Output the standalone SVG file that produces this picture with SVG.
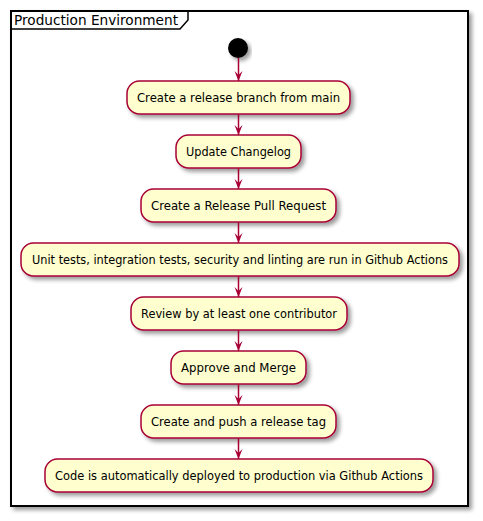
<svg xmlns="http://www.w3.org/2000/svg" width="483" height="521" viewBox="0 0 483 521">
<defs>
<filter id="sh" x="-10%" y="-10%" width="130%" height="150%">
<feGaussianBlur in="SourceAlpha" stdDeviation="2" result="b"/>
<feOffset in="b" dx="3" dy="3" result="o"/>
<feComponentTransfer in="o" result="s"><feFuncA type="linear" slope="0.4"/></feComponentTransfer>
<feMerge><feMergeNode in="s"/><feMergeNode in="SourceGraphic"/></feMerge>
</filter>
<marker id="ah" viewBox="0 0 10 10" refX="10" refY="5" markerWidth="10" markerHeight="10" markerUnits="userSpaceOnUse" orient="auto">
<polygon points="0,1 10,5 0,9 4,5" fill="#A80036"/>
</marker>
</defs>
<style>
.node rect{fill:#FEFECE;stroke:#A80036;stroke-width:1.5}
.node text{font-family:"DejaVu Sans",Verdana,sans-serif;font-size:12px;fill:#000;text-anchor:middle}
.conn line{stroke:#A80036;stroke-width:1.5;marker-end:url(#ah)}
</style>
<g id="frame">
<rect x="11" y="11" width="457" height="495" fill="#fff" stroke="#000" stroke-width="2" filter="url(#sh)"/>
<path d="M11,29 L180,29 L188,20 L188,11" fill="none" stroke="#000" stroke-width="1.5"/>
<text x="14" y="25" font-family="DejaVu Sans,Verdana,sans-serif" font-size="14" textLength="164" lengthAdjust="spacingAndGlyphs">Production Environment</text>
</g>
<g id="start"><circle cx="238" cy="48" r="10" fill="#000" filter="url(#sh)"/></g>
<g id="n1" class="node"><rect x="127" y="81" width="223" height="33" rx="12.5" filter="url(#sh)"/><text x="238.5" y="102" textLength="203" lengthAdjust="spacingAndGlyphs">Create a release branch from main</text></g>
<g id="n2" class="node"><rect x="176" y="135" width="125" height="33" rx="12.5" filter="url(#sh)"/><text x="238.5" y="156" textLength="105" lengthAdjust="spacingAndGlyphs">Update Changelog</text></g>
<g id="n3" class="node"><rect x="141" y="189" width="195" height="33" rx="12.5" filter="url(#sh)"/><text x="238.5" y="210" textLength="175" lengthAdjust="spacingAndGlyphs">Create a Release Pull Request</text></g>
<g id="n4" class="node"><rect x="21" y="243" width="438" height="33" rx="12.5" filter="url(#sh)"/><text x="240" y="264" textLength="416" lengthAdjust="spacingAndGlyphs">Unit tests, integration tests, security and linting are run in Github Actions</text></g>
<g id="n5" class="node"><rect x="131" y="297" width="216" height="33" rx="12.5" filter="url(#sh)"/><text x="239" y="318" textLength="196" lengthAdjust="spacingAndGlyphs">Review by at least one contributor</text></g>
<g id="n6" class="node"><rect x="171" y="351" width="135" height="33" rx="12.5" filter="url(#sh)"/><text x="238.5" y="372" textLength="115" lengthAdjust="spacingAndGlyphs">Approve and Merge</text></g>
<g id="n7" class="node"><rect x="141" y="405" width="195" height="33" rx="12.5" filter="url(#sh)"/><text x="238.5" y="426" textLength="175" lengthAdjust="spacingAndGlyphs">Create and push a release tag</text></g>
<g id="n8" class="node"><rect x="45" y="459" width="388" height="33" rx="12.5" filter="url(#sh)"/><text x="239" y="480" textLength="368" lengthAdjust="spacingAndGlyphs">Code is automatically deployed to production via Github Actions</text></g>
<g id="connectors" class="conn">
<line x1="238.5" y1="58" x2="238.5" y2="81"/>
<line x1="238.5" y1="114" x2="238.5" y2="135"/>
<line x1="238.5" y1="168" x2="238.5" y2="189"/>
<line x1="238.5" y1="222" x2="238.5" y2="243"/>
<line x1="238.5" y1="276" x2="238.5" y2="297"/>
<line x1="238.5" y1="330" x2="238.5" y2="351"/>
<line x1="238.5" y1="384" x2="238.5" y2="405"/>
<line x1="238.5" y1="438" x2="238.5" y2="459"/>
</g>
</svg>
